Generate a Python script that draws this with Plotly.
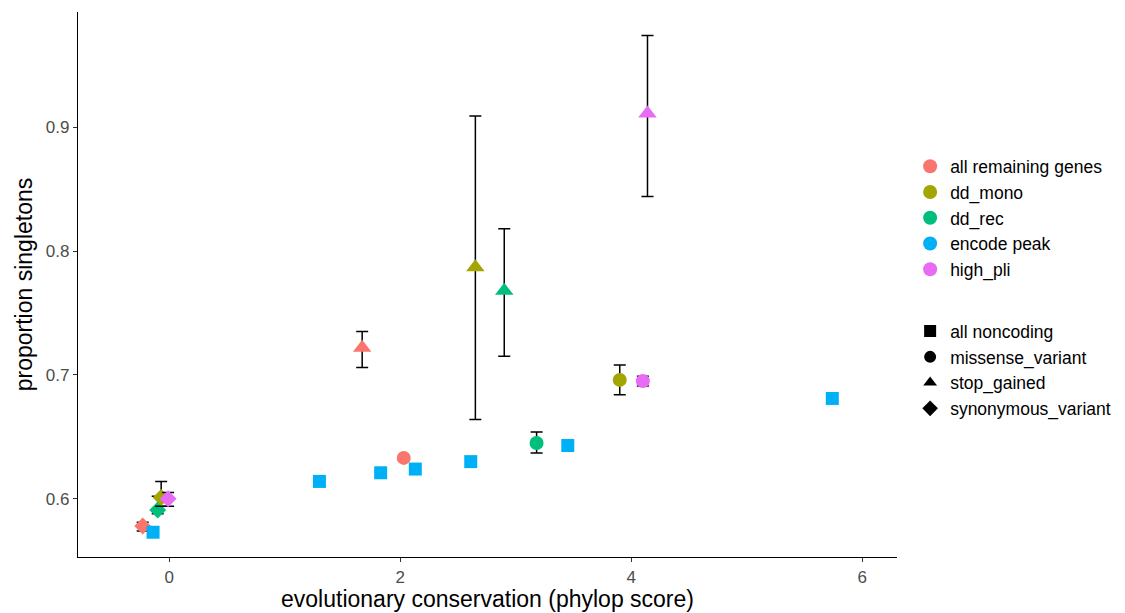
import plotly.graph_objects as go

# ---- data ----
groups = ["all remaining genes", "dd_mono", "dd_rec", "encode peak", "high_pli"]
colors = ["#F8766D", "#A3A500", "#00BF7D", "#00B0F6", "#E76BF3"]
consequences = ["all noncoding", "missense_variant", "stop_gained", "synonymous_variant"]
symbols = ["square", "circle", "triangle-up", "diamond"]

pt_group = ["high_pli", "dd_mono", "dd_rec", "all remaining genes",
            "dd_mono", "high_pli", "dd_rec", "all remaining genes",
            "all remaining genes", "dd_rec", "dd_mono", "high_pli",
            "encode peak", "encode peak", "encode peak", "encode peak",
            "encode peak", "encode peak", "encode peak"]
pt_cons = ["stop_gained", "stop_gained", "stop_gained", "stop_gained",
           "missense_variant", "missense_variant", "missense_variant", "missense_variant",
           "synonymous_variant", "synonymous_variant", "synonymous_variant", "synonymous_variant",
           "all noncoding", "all noncoding", "all noncoding", "all noncoding",
           "all noncoding", "all noncoding", "all noncoding"]
pt_x = [4.14, 2.65, 2.90, 1.67,
        3.90, 4.10, 3.18, 2.03,
        -0.23, -0.10, -0.07, -0.01,
        5.74, 3.45, 2.61, 2.13, 1.83, 1.30, -0.14]
pt_y = [0.911, 0.787, 0.768, 0.722,
        0.696, 0.695, 0.645, 0.633,
        0.578, 0.591, 0.601, 0.600,
        0.681, 0.643, 0.630, 0.624, 0.621, 0.614, 0.573]
pt_lo = [0.844, 0.664, 0.715, 0.706,
         0.684, 0.691, 0.637, None,
         0.574, 0.588, 0.594, 0.594,
         None, None, None, None, None, None, None]
pt_hi = [0.974, 0.909, 0.818, 0.735,
         0.708, 0.699, 0.654, None,
         0.581, 0.602, 0.614, 0.605,
         None, None, None, None, None, None, None]

marker_size = {"square": 13, "circle": 14, "triangle-up": 16, "diamond": 13}

fig = go.Figure()

for i in range(len(pt_x)):
    g = groups.index(pt_group[i])
    s = symbols[consequences.index(pt_cons[i])]
    err = None
    if pt_lo[i] is not None:
        err = dict(type="data", symmetric=False,
                   array=[pt_hi[i] - pt_y[i]], arrayminus=[pt_y[i] - pt_lo[i]],
                   color="black", thickness=1.5, width=6)
    fig.add_trace(go.Scatter(
        x=[pt_x[i]], y=[pt_y[i]], mode="markers",
        marker=dict(color=colors[g], symbol=s, size=marker_size[s], line=dict(width=0)),
        error_y=err, showlegend=False, hoverinfo="x+y"))

# colour legend
for g, c in zip(groups, colors):
    fig.add_trace(go.Scatter(x=[None], y=[None], mode="markers", name=g,
                             marker=dict(color=c, symbol="circle", size=14),
                             legend="legend"))
# shape legend
for cn, s in zip(consequences, symbols):
    fig.add_trace(go.Scatter(x=[None], y=[None], mode="markers", name=cn,
                             marker=dict(color="black", symbol=s, size=12),
                             legend="legend2"))

font_family = "Liberation Sans, Arial, sans-serif"
axis_common = dict(showline=True, linecolor="black", linewidth=1.2, mirror=False,
                   showgrid=False, zeroline=False, ticks="outside", ticklen=4,
                   tickcolor="#333333", tickwidth=1.2, automargin=False,
                   tickfont=dict(size=17, color="#4d4d4d", family=font_family),
                   title_font=dict(size=23, color="black", family=font_family))

fig.update_layout(
    width=1125, height=613,
    margin=dict(l=78, r=228, t=12, b=56),
    plot_bgcolor="white", paper_bgcolor="white",
    font=dict(family=font_family),
    xaxis=dict(range=[-0.79, 6.30], tickvals=[0, 2, 4, 6],
               title=dict(text="evolutionary conservation (phylop score)", standoff=4), **axis_common),
    yaxis=dict(range=[0.553, 0.993], tickvals=[0.6, 0.7, 0.8, 0.9], tickformat=".1f",
               title=dict(text="proportion singletons", standoff=6), **axis_common),
    legend=dict(xref="container", yref="container", x=0.809, y=0.758, xanchor="left", yanchor="top",
                font=dict(size=17.5, color="black", family=font_family), itemwidth=30,
                bgcolor="rgba(0,0,0,0)", tracegroupgap=0),
    legend2=dict(xref="container", yref="container", x=0.809, y=0.489, xanchor="left", yanchor="top",
                 font=dict(size=17.5, color="black", family=font_family), itemwidth=30,
                 bgcolor="rgba(0,0,0,0)", tracegroupgap=0),
)

fig.write_html("out.html")
